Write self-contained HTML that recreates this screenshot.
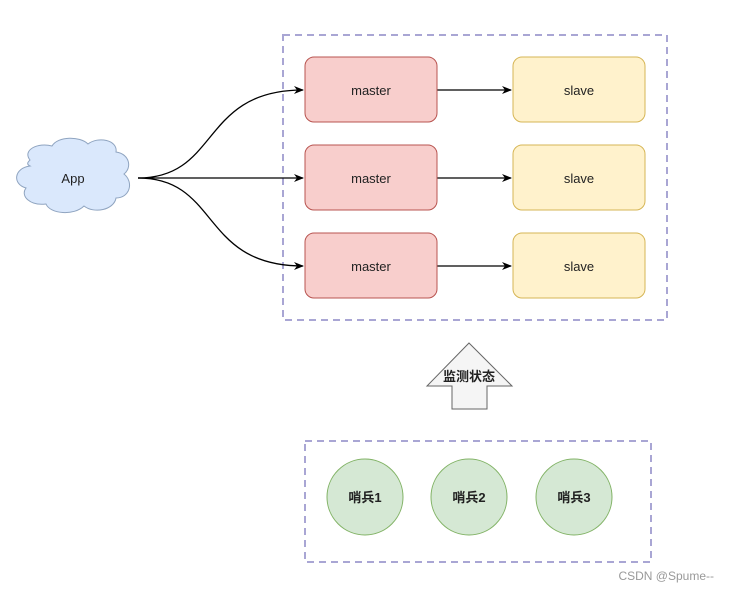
<!DOCTYPE html>
<html><head><meta charset="utf-8"><style>
html,body{margin:0;padding:0;background:#fff;}
text{font-family:"Liberation Sans","Noto Sans CJK SC",sans-serif;}
</style></head><body>
<svg width="730" height="591" viewBox="0 0 730 591" xmlns="http://www.w3.org/2000/svg">
<defs><marker id="a" markerWidth="10" markerHeight="10" refX="9" refY="5" orient="auto" markerUnits="userSpaceOnUse"><path d="M0,1 L10,5 L0,9 L3,5 Z" fill="#000"/></marker></defs>
<rect x="283" y="35" width="384" height="285" fill="none" stroke="#a9a6d4" stroke-width="2" stroke-dasharray="7,5"/>
<rect x="305" y="441" width="346" height="121" fill="none" stroke="#a9a6d4" stroke-width="2" stroke-dasharray="7,5"/>
<path d="M30,160 C22,150 38,142 52,146 C58,136 80,136 88,144 C98,136 118,140 116,152 C130,154 132,168 124,174 C134,182 130,198 116,198 C114,210 94,214 84,206 C74,216 50,214 46,204 C30,206 20,196 26,188 C12,184 14,168 30,166 C26,164 28,162 30,160 Z" fill="#dae8fc" stroke="#8fa4c0" stroke-width="1"/>
<text x="73" y="183" font-size="13" text-anchor="middle" fill="#222">App</text>
<g stroke="#000" stroke-width="1.3" fill="none">
<path d="M138,178 C220,178 200,90 303,90" marker-end="url(#a)"/>
<path d="M138,178 L303,178" marker-end="url(#a)"/>
<path d="M138,178 C220,178 200,266 303,266" marker-end="url(#a)"/>
<path d="M437,90 L511,90" marker-end="url(#a)"/>
<path d="M437,178 L511,178" marker-end="url(#a)"/>
<path d="M437,266 L511,266" marker-end="url(#a)"/>
</g>
<g fill="#f8cecc" stroke="#b85450" stroke-width="1">
<rect x="305" y="57" width="132" height="65" rx="9"/>
<rect x="305" y="145" width="132" height="65" rx="9"/>
<rect x="305" y="233" width="132" height="65" rx="9"/>
</g>
<g fill="#fff2cc" stroke="#d6b656" stroke-width="1">
<rect x="513" y="57" width="132" height="65" rx="9"/>
<rect x="513" y="145" width="132" height="65" rx="9"/>
<rect x="513" y="233" width="132" height="65" rx="9"/>
</g>
<g font-size="13" text-anchor="middle" fill="#222">
<text x="371" y="95">master</text><text x="371" y="183">master</text><text x="371" y="271">master</text>
<text x="579" y="95">slave</text><text x="579" y="183">slave</text><text x="579" y="271">slave</text>
</g>
<path d="M469,343 L512,386 L487,386 L487,409 L452,409 L452,386 L427,386 Z" fill="#f5f5f5" stroke="#666" stroke-width="1"/>
<text x="469" y="381" font-size="13" font-weight="bold" text-anchor="middle" fill="#222">监测状态</text>
<g fill="#d5e8d4" stroke="#82b366" stroke-width="1">
<circle cx="365" cy="497" r="38"/><circle cx="469" cy="497" r="38"/><circle cx="574" cy="497" r="38"/>
</g>
<g font-size="13" font-weight="bold" text-anchor="middle" fill="#222">
<text x="365" y="502">哨兵1</text><text x="469" y="502">哨兵2</text><text x="574" y="502">哨兵3</text>
</g>
<text x="714" y="580" font-size="12" text-anchor="end" fill="#999">CSDN @Spume--</text>
</svg>
</body></html>
